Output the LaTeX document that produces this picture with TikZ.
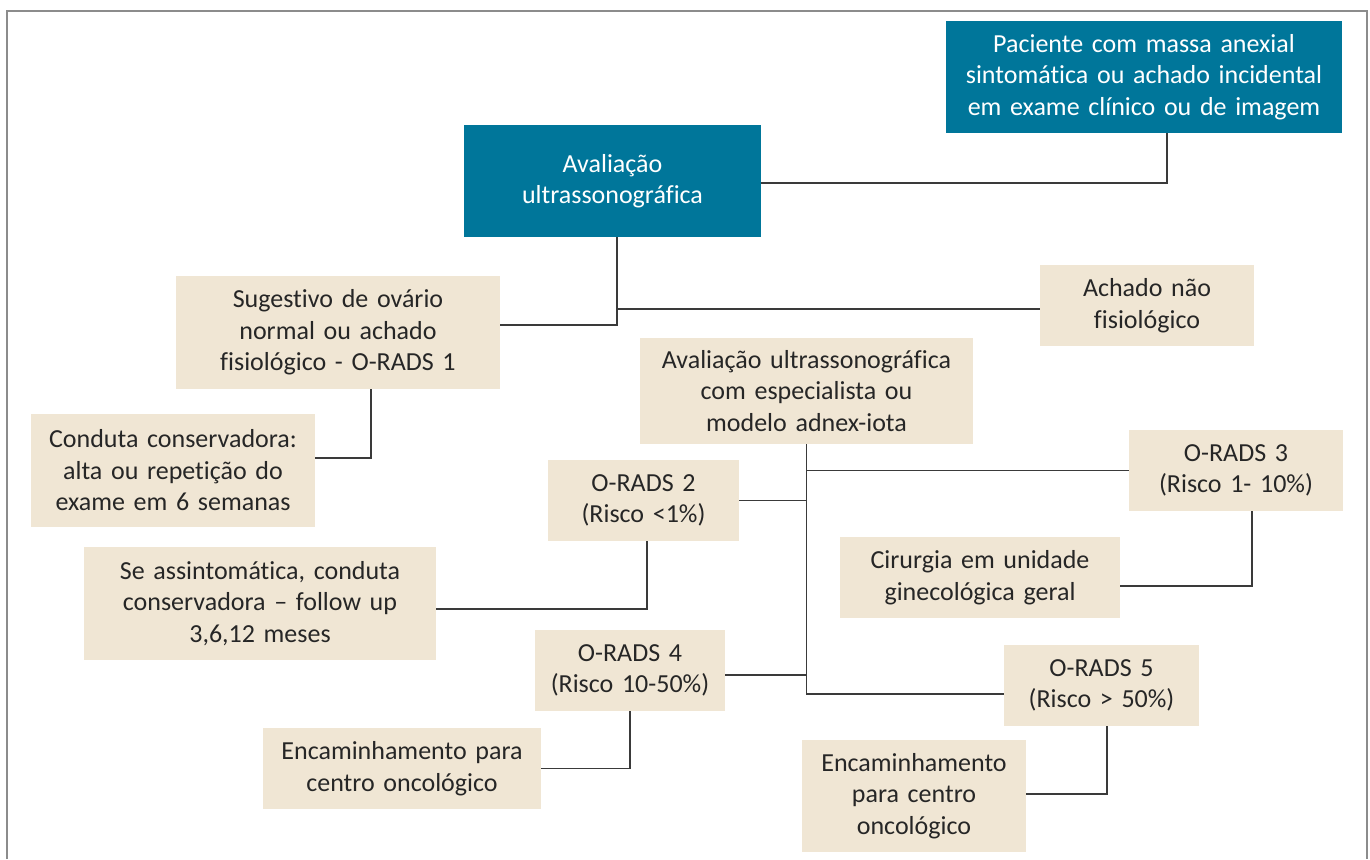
\documentclass[tikz,border=0pt]{standalone}
\usepackage{fontspec}
\setmainfont{Carlito}[Ligatures={NoCommon}]
\definecolor{teal}{HTML}{00769A}
\definecolor{beige}{HTML}{F0E6D4}
\definecolor{txt}{HTML}{262626}
\definecolor{lin}{HTML}{3A3A3A}
\definecolor{frame}{HTML}{8C8C8C}
\begin{document}
\begin{tikzpicture}[x=1pt,y=-1pt,
  box/.style={rectangle, fill=beige, inner sep=0pt, align=center, text=txt,
    font=\fontsize{26}{31.5}\selectfont},
  dark/.style={box, fill=teal, text=white},
  conn/.style={draw=lin, line width=1.5pt}]
\useasboundingbox (0,0) rectangle (1370,859);
\draw[frame, line width=2pt] (7,859) -- (7,11) -- (1367,11) -- (1367,859);

\node[dark, minimum width=396pt, minimum height=112pt, text width=390pt] (pac) at (1144,77)
  {Paciente com massa anexial\\sintomática ou achado incidental\\em exame clínico ou de imagem};
\node[dark, minimum width=297pt, minimum height=112pt, text width=290pt] (aval) at (612.5,181)
  {Avaliação\\ultrassonográfica};
\node[box, minimum width=324pt, minimum height=113pt, text width=318pt] (sug) at (338,332.5)
  {Sugestivo de ovário\\normal ou achado\\fisiológico - O-RADS 1};
\node[box, minimum width=214pt, minimum height=81pt, text width=208pt] (achado) at (1147,305.5)
  {Achado não\\fisiológico};
\node[box, minimum width=333pt, minimum height=106pt, text width=327pt] (esp) at (806.5,391)
  {Avaliação ultrassonográfica\\com especialista ou\\modelo adnex-iota};
\node[box, minimum width=284pt, minimum height=113pt, text width=278pt] (cond) at (173,470.5)
  {Conduta conservadora:\\alta ou repetição do\\exame em 6 semanas};
\node[box, minimum width=191pt, minimum height=81pt, text width=185pt] (or2) at (643.5,500.5)
  {O-RADS 2\\(Risco <1\%)};
\node[box, minimum width=214pt, minimum height=81pt, text width=208pt] (or3) at (1236,470.5)
  {O-RADS 3\\(Risco 1- 10\%)};
\node[box, minimum width=280pt, minimum height=81pt, text width=274pt] (cir) at (980,577.5)
  {Cirurgia em unidade\\ginecológica geral};
\node[box, minimum width=352pt, minimum height=113pt, text width=346pt] (se) at (260,603.5)
  {Se assintomática, conduta\\conservadora – follow up\\3,6,12 meses};
\node[box, minimum width=190pt, minimum height=81pt, text width=184pt] (or4) at (630,670.5)
  {O-RADS 4\\(Risco 10-50\%)};
\node[box, minimum width=278pt, minimum height=81pt, text width=272pt] (enc1) at (402,768.5)
  {Encaminhamento para\\centro oncológico};
\node[box, minimum width=195pt, minimum height=81pt, text width=189pt] (or5) at (1101.5,685.5)
  {O-RADS 5\\(Risco > 50\%)};
\node[box, minimum width=224pt, minimum height=112pt, text width=218pt] (enc2) at (914,796)
  {Encaminhamento\\para centro\\oncológico};

\draw[conn] ([xshift=23pt]pac.south) |- ([yshift=-2pt]aval.east);
\draw[conn] ([xshift=4.5pt]aval.south) |- ([yshift=7.5pt]sug.east);
\draw[conn] ([xshift=4.5pt]aval.south) |- ([yshift=-3.5pt]achado.west);
\draw[conn] ([xshift=33pt]sug.south) |- ([yshift=12.5pt]cond.east);
\draw[conn] (esp.south) |- ([yshift=-8.5pt]or5.west);
\draw[conn] (esp.south) |- (or3.west);
\draw[conn] (or2.east) -- (or2.east -| esp.south);
\draw[conn] ([yshift=-4.5pt]or4.east) -- ([yshift=-4.5pt]or4.east -| esp.south);
\draw[conn] ([xshift=16pt]or3.south) |- ([yshift=-8.5pt]cir.east);
\draw[conn] ([xshift=3.5pt]or2.south) |- ([yshift=-5.5pt]se.east);
\draw[conn] (or4.south) |- (enc1.east);
\draw[conn] ([xshift=5.5pt]or5.south) |- ([yshift=2pt]enc2.east);
\end{tikzpicture}
\end{document}
